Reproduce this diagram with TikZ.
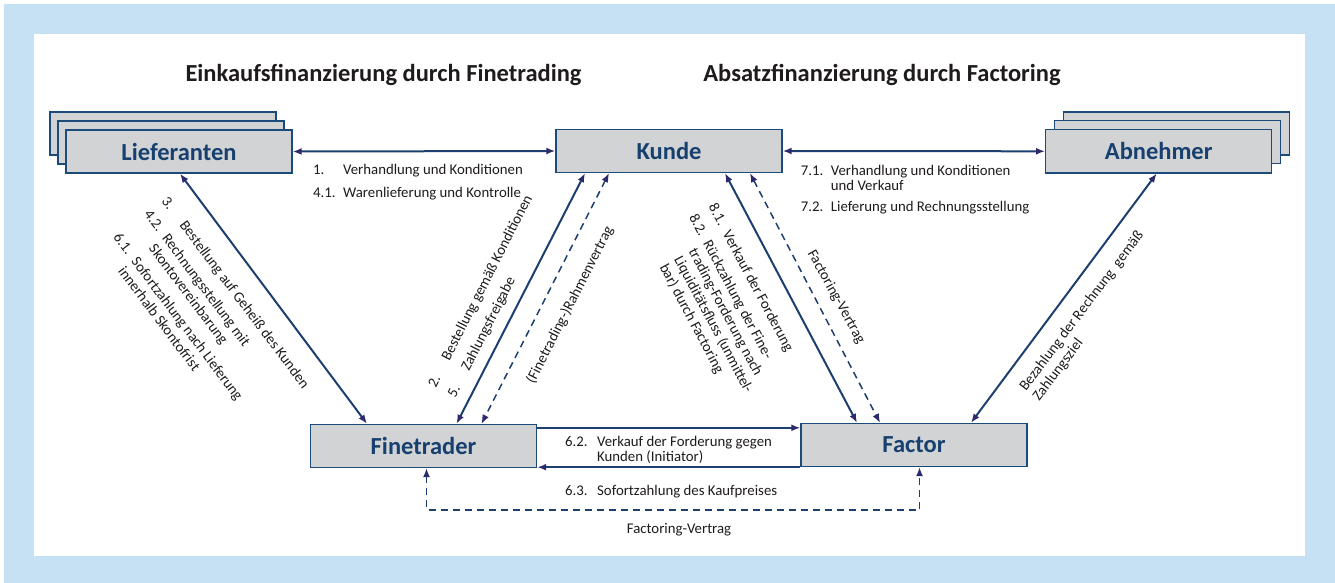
\documentclass[tikz,border=0pt]{standalone}
\usepackage{fontspec}
\setmainfont{Carlito}
\usetikzlibrary{arrows.meta,calc}
\definecolor{bgblue}{HTML}{C6E1F4}
\definecolor{boxfill}{HTML}{D1D3D5}
\definecolor{boxline}{HTML}{1C4A7A}
\definecolor{boxtext}{HTML}{17406F}
\definecolor{lineblue}{HTML}{1D3F70}
\definecolor{tipcol}{HTML}{2C2A6C}
\definecolor{lbltext}{HTML}{1F1B1C}
\newcommand\numcol[1]{\makebox[30pt][l]{#1}}
\begin{document}
\begin{tikzpicture}[x=1pt,y=-1pt,
  >={Latex[length=9pt,width=7pt,color=tipcol]},
  stackbox/.style={draw=boxline, fill=boxfill, line width=1.4pt, minimum width=226pt, minimum height=43pt, inner sep=0pt},
  box/.style={stackbox, text=boxtext, font=\fontsize{24.5}{28}\selectfont\bfseries},
  title/.style={font=\fontsize{24.5}{28}\selectfont\bfseries, text=lbltext, inner sep=0pt},
  lbl/.style={font=\fontsize{14.8}{16.5}\selectfont, text=lbltext, inner sep=0pt},
  conn/.style={draw=lineblue, line width=2pt},
  dconn/.style={draw=lineblue, line width=1.5pt, dash pattern=on 7pt off 5pt}]
\useasboundingbox (0,0) rectangle (1335,583);
\fill[white] (0,0) rectangle (1335,583);
\fill[bgblue] (4,4) rectangle (1335,583);
\fill[white] (34,34) rectangle (1305,556);

% titles
\node[title, anchor=base] (t1) at (383.5,82) {Einkaufsfinanzierung durch Finetrading};
\node[title, anchor=base] (t2) at (882,82) {Absatzfinanzierung durch Factoring};

% boxes
\node[stackbox] (lief3) at (163,133.5) {};
\node[stackbox] (lief2) at (171,142.5) {};
\node[box] (lief) at (179,151.5) {Lieferanten};
\node[box] (kunde) at (669,151) {Kunde};
\node[stackbox] (abn3) at (1176.2,133.5) {};
\node[stackbox] (abn2) at (1167.7,142.2) {};
\node[box] (abn) at (1158.7,151.3) {Abnehmer};
\node[box] (fine) at (423.5,446) {Finetrader};
\node[box] (fac) at (914,445) {Factor};

% connectors
\draw[conn, <->] (lief.east) -- (kunde.west);
\draw[conn, <->] (kunde.east) -- (abn.west);
\draw[conn, <->] ([xshift=1pt]lief.south) -- ([xshift=-56.5pt]fine.north);
\draw[conn, <->] ([xshift=-84pt]kunde.south) -- ([xshift=33pt]fine.north);
\draw[dconn, <->] ([xshift=-60pt]kunde.south) -- ([xshift=58pt]fine.north);
\draw[conn, <->] ([xshift=56pt]kunde.south) -- ([xshift=-57pt]fac.north);
\draw[dconn, <->] ([xshift=81pt]kunde.south) -- ([xshift=-34pt]fac.north);
\draw[conn, <->] ([xshift=-2pt]abn.south) -- ([xshift=57pt]fac.north);
\draw[conn, ->] ([yshift=-4pt]fine.north east) -- ([yshift=-4pt]fine.north east -| fac.west);
\draw[conn, ->] (fac.south west) -- (fac.south west -| fine.east);
\draw[dconn, <->] ([xshift=3pt]fine.south) -- ++(0,42) -| ([xshift=5.5pt]fac.south);

% horizontal labels
\node[lbl, anchor=base west] (l1) at (313,174.3) {\numcol{1.}Verhandlung und Konditionen};
\node[lbl, anchor=base west] (l41) at (313,197.3) {\numcol{4.1.}Warenlieferung und Kontrolle};
\node[lbl, anchor=base west] (l71) at (800.7,175) {\numcol{7.1.}Verhandlung und Konditionen};
\node[lbl, anchor=base west] (l71b) at (830.7,190.7) {und Verkauf};
\node[lbl, anchor=base west] (l72) at (800.7,211.7) {\numcol{7.2.}Lieferung und Rechnungsstellung};
\node[lbl, anchor=base west] (l62) at (565,446.7) {\makebox[32pt][l]{6.2.}Verkauf der Forderung gegen};
\node[lbl, anchor=base west] (l62b) at (597,461.7) {Kunden (Initiator)};
\node[lbl, anchor=base west] (l63) at (565,495) {\makebox[32pt][l]{6.3.}Sofortzahlung des Kaufpreises};
\node[lbl, anchor=base] (lfv) at (679,533) {Factoring-Vertrag};

% rotated labels: Lieferanten - Finetrader
\begin{scope}[shift={(161,201.4)}, rotate=-53, transform shape, every node/.append style={lbl, anchor=base west}]
 \node (a1) at (0,0) {\numcol{3.}Bestellung auf Geheiß des Kunden};
 \node (a2) at (0,22) {\numcol{4.2.}Rechnungsstellung mit};
 \node (a3) at (30,38.5) {Skontovereinbarung};
 \node (a4) at (0,60.5) {\numcol{6.1.}Sofortzahlung nach Lieferung};
 \node (a5) at (30,77) {innerhalb Skontofrist};
\end{scope}

% Kunde - Finetrader
\begin{scope}[shift={(435.7,388.4)}, rotate=63, transform shape, every node/.append style={lbl, anchor=base west}]
 \node (b1) at (0,0) {\numcol{2.}Bestellung gemäß Konditionen};
 \node (b2) at (0,22) {\numcol{5.}Zahlungsfreigabe};
\end{scope}
\node[lbl, rotate=63] (c1) at (570,305) {(Finetrading-)Rahmenvertrag};

% Kunde - Factor
\begin{scope}[shift={(708.2,206.8)}, rotate=-62, transform shape, every node/.append style={lbl, anchor=base west}]
 \node (d1) at (0,0) {\numcol{8.1.}Verkauf der Forderung};
 \node (d2) at (0,22) {\numcol{8.2.}Rückzahlung der Fine-};
 \node (d3) at (30,38.5) {trading-Forderung nach};
 \node (d4) at (30,55) {Liquiditätsfluss (unmittel-};
 \node (d5) at (30,71.5) {bar) durch Factoring};
\end{scope}
\node[lbl, rotate=-61] (e1) at (836,297) {Factoring-Vertrag};

% Abnehmer - Factor
\begin{scope}[shift={(1026,392)}, rotate=53, transform shape, every node/.append style={lbl, anchor=base west}]
 \node (f1) at (0,0) {Bezahlung der Rechnung\ \ gemäß};
 \node (f2) at (0,16.5) {Zahlungsziel};
\end{scope}
\end{tikzpicture}
\end{document}
